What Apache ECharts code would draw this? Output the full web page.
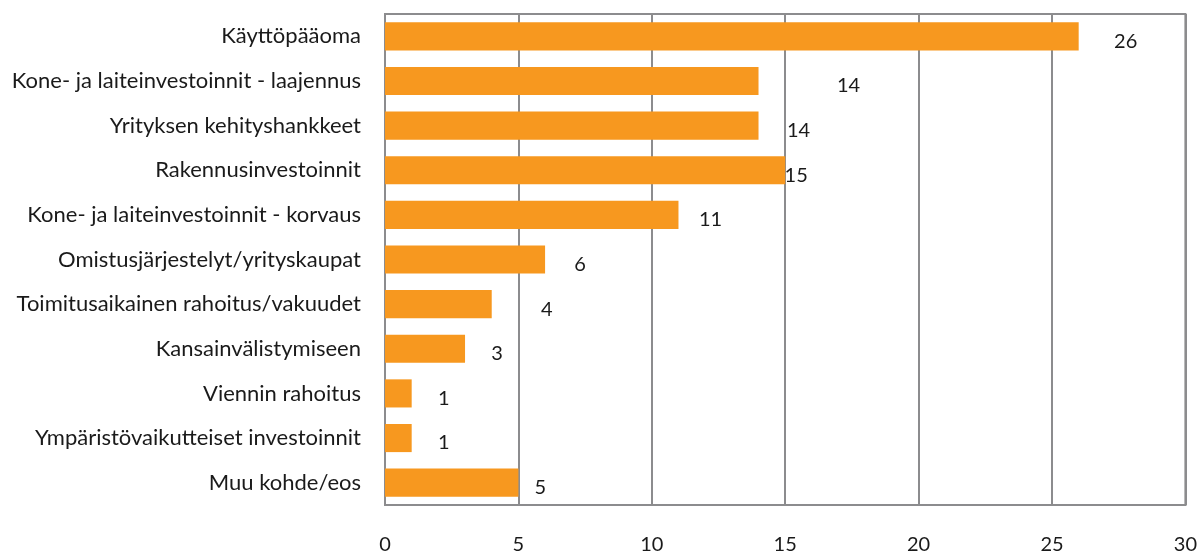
<!DOCTYPE html>
<html>
<head>
<meta charset="utf-8">
<script src="https://cdn.jsdelivr.net/npm/echarts@6/dist/echarts.min.js"></script>
<style>
	html, body { margin: 0; padding: 0; background: #fff; }
	#mychart { width: 1200px; height: 555px; }
</style>
</head>
<body>
<div id="mychart"></div>
<script>
// kohteet ylhäältä alas
var categories = [
	'Käyttöpääoma',
	'Kone- ja laiteinvestoinnit - laajennus',
	'Yrityksen kehityshankkeet',
	'Rakennusinvestoinnit',
	'Kone- ja laiteinvestoinnit - korvaus',
	'Omistusjärjestelyt/yrityskaupat',
	'Toimitusaikainen rahoitus/vakuudet',
	'Kansainvälistymiseen',
	'Viennin rahoitus',
	'Ympäristövaikutteiset investoinnit',
	'Muu kohde/eos'
];
var values = [26, 14, 14, 15, 11, 6, 4, 3, 1, 1, 5];
var xTicks = [0, 5, 10, 15, 20, 25, 30];

// arvojen sijainti palkin päästä (px), kuten alkuperäisessä
var labelShift = [47, 90, 40, 11, 32, 35, 55, 32, 32, 32, 22];

var font = 'Lato';
var gray = '#8c8c8e';

var seriesData = [];
for(var i = 0; i < values.length; i++) {
	seriesData.push({
		value: values[i],
		label: { offset: [labelShift[i], 5] }
	});
}

var myChart = echarts.init(document.getElementById('mychart'));
var option = {
	animation: false,
	grid: {
		left: 385,
		right: 13,
		top: 14,
		bottom: 50,
		show: true,
		borderColor: gray,
		borderWidth: 2
	},
	xAxis: {
		type: 'value',
		min: xTicks[0],
		max: xTicks[xTicks.length - 1],
		interval: 5,
		axisLine: { show: true, lineStyle: { color: gray, width: 2 } },
		axisTick: { show: false },
		splitLine: { show: true, lineStyle: { color: gray, width: 2 } },
		axisLabel: {
			margin: 30,
			color: '#1a1a1a',
			fontFamily: font,
			fontSize: 20
		}
	},
	yAxis: {
		type: 'category',
		inverse: true,
		data: categories,
		axisLine: { show: true, lineStyle: { color: gray, width: 2 } },
		axisTick: { show: false },
		axisLabel: {
			margin: 24,
			padding: [6, 0, 0, 0],
			color: '#1a1a1a',
			fontFamily: font,
			fontSize: 22
		}
	},
	series: [{
		type: 'bar',
		data: seriesData,
		barCategoryGap: '37%',
		itemStyle: { color: '#f7981f' },
		label: {
			show: true,
			position: 'right',
			distance: 0,
			align: 'center',
			color: '#1a1a1a',
			fontFamily: font,
			fontSize: 20
		}
	}]
};
myChart.setOption(option);
</script>
</body>
</html>
